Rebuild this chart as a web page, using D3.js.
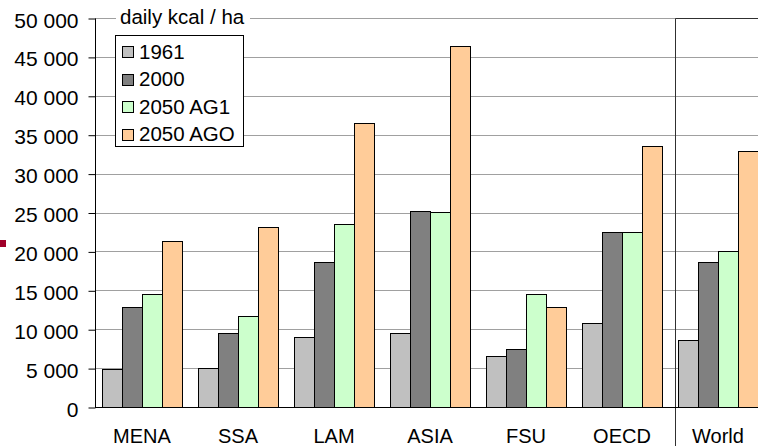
<!DOCTYPE html>
<html>
<head>
<meta charset="utf-8">
<script src="https://cdn.jsdelivr.net/npm/d3@7/dist/d3.min.js"></script>
<style>
  html, body { margin: 0; padding: 0; background: #fff; }
  svg { display: block; font-family: "Liberation Sans", Arial, sans-serif; }
</style>
</head>
<body>
<svg id="chart" width="758" height="446"></svg>
<script>
const categories = ["MENA", "SSA", "LAM", "ASIA", "FSU", "OECD", "World"];
const seriesNames = ["1961", "2000", "2050 AG1", "2050 AGO"];
const seriesColors = ["#c0c0c0", "#808080", "#ccffcc", "#ffcc99"];
const values1961 = [4900, 5000, 9050, 9450, 6500, 10750, 8600];
const values2000 = [12850, 9450, 18700, 25150, 7450, 22550, 18700];
const valuesAG1 = [14500, 11750, 23500, 25100, 14500, 22550, 20000];
const valuesAGO = [21350, 23150, 36500, 46450, 12800, 33550, 32950];
const yTicks = [0, 5000, 10000, 15000, 20000, 25000, 30000, 35000, 40000, 45000, 50000];
const unitLabel = "daily kcal / ha";

const allSeries = [values1961, values2000, valuesAG1, valuesAGO];

(function () {
const svg = d3.select("#chart");
const W = 758, H = 446;
const mLeft = 95, mTop = 18, mBottom = 407;

const x0 = d3.scaleBand().domain(categories).range([94, 766])
  .paddingInner(1/6).paddingOuter(1/12);
const x1 = d3.scaleBand().domain(seriesNames).range([0, x0.bandwidth()]).padding(0);
const y = d3.scaleLinear().domain([0, 50000]).range([mBottom, mTop]);

const fmt = d3.formatLocale({decimal: ",", thousands: " ", grouping: [3], currency: ["", ""]}).format(",d");

// decorative marker at left edge
svg.append("rect").attr("x", 0).attr("y", 240).attr("width", 6).attr("height", 7).attr("fill", "#a0002a");

// gridlines
svg.append("g").selectAll("line").data(yTicks.filter(d => d > 0)).join("line")
  .attr("x1", mLeft).attr("x2", W)
  .attr("y1", d => Math.round(y(d)) + 0.5).attr("y2", d => Math.round(y(d)) + 0.5)
  .attr("stroke", "#a0a0a0").attr("stroke-width", 1);

// World separator box
const sepX = Math.round(x0("World") - 3) + 0.5;
svg.append("path")
  .attr("d", `M${sepX},${H} L${sepX},${Math.round(y(50000)) + 0.5} L${W},${Math.round(y(50000)) + 0.5}`)
  .attr("fill", "none").attr("stroke", "#303030").attr("stroke-width", 1);

// bars
const groups = svg.append("g").selectAll("g").data(categories).join("g")
  .attr("transform", d => `translate(${x0(d)},0)`);
groups.selectAll("rect")
  .data((c, ci) => seriesNames.map((s, si) => ({s, si, v: allSeries[si][ci]})))
  .join("rect")
  .attr("x", d => Math.round(x1(d.s)) + 0.5)
  .attr("y", d => Math.round(y(d.v)) + 0.5)
  .attr("width", x1.bandwidth())
  .attr("height", d => Math.round(y(0)) - Math.round(y(d.v)))
  .attr("fill", d => seriesColors[d.si])
  .attr("stroke", "#000").attr("stroke-width", 1);

// y axis
const yAxis = d3.axisLeft(y).tickValues(yTicks).tickFormat(fmt).tickSize(7).tickPadding(10);
const gy = svg.append("g").attr("transform", `translate(${mLeft + 0.5},0.5)`).call(yAxis);
gy.select(".domain").attr("d", `M0,${Math.round(y(50000))}V${Math.round(y(0))}`).attr("stroke", "#000");
gy.selectAll(".tick line").attr("stroke", "#000");
gy.selectAll(".tick text").attr("font-size", 21).attr("fill", "#000")
  .attr("font-family", "Liberation Sans, Arial, sans-serif").attr("dy", 8.5);

// x baseline
svg.append("line").attr("x1", mLeft).attr("x2", W)
  .attr("y1", Math.round(y(0)) + 0.5).attr("y2", Math.round(y(0)) + 0.5)
  .attr("stroke", "#000");

// x labels
svg.append("g").selectAll("text").data(categories).join("text")
  .attr("x", d => x0(d) + x0.bandwidth() / 2)
  .attr("y", 443)
  .attr("text-anchor", "middle").attr("font-size", 20).attr("fill", "#000")
  .text(d => d);

// unit label with white background
svg.append("rect").attr("x", 116).attr("y", 8).attr("width", 134).attr("height", 20).attr("fill", "#fff");
svg.append("text").attr("x", 120).attr("y", 24).attr("font-size", 20.5).attr("fill", "#000").text(unitLabel);

// legend
const lg = svg.append("g");
lg.append("rect").attr("x", 115.5).attr("y", 35.5).attr("width", 128).attr("height", 111)
  .attr("fill", "#fff").attr("stroke", "#000");
const rowY = [52, 79.5, 107, 134.5];
seriesNames.forEach((s, i) => {
  lg.append("rect").attr("x", 122.5).attr("y", Math.round(rowY[i] - 6) + 0.5).attr("width", 11).attr("height", 11)
    .attr("fill", seriesColors[i]).attr("stroke", "#000");
  lg.append("text").attr("x", 139).attr("y", rowY[i] + 6.5).attr("font-size", 20.5).attr("fill", "#000").text(s);
});
})();
</script>
</body>
</html>
